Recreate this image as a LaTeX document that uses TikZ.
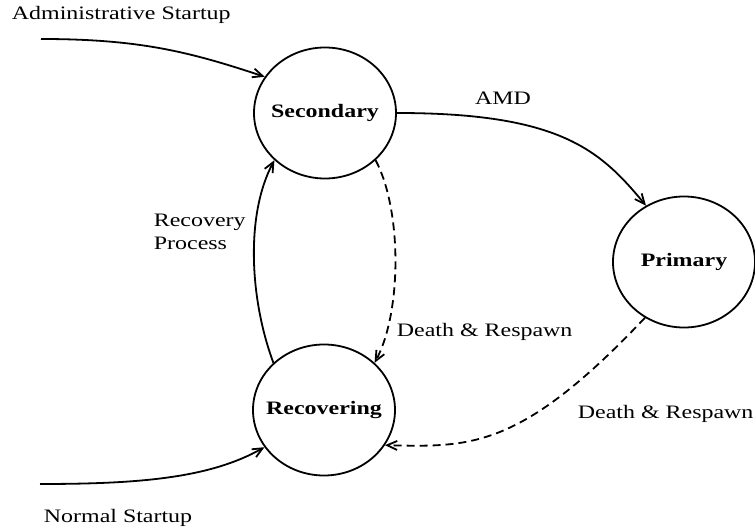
\documentclass[tikz,border=0pt]{standalone}
\usepackage{fontspec}
\setmainfont{Liberation Serif}[FakeStretch=1.26]
\usetikzlibrary{shapes.geometric,arrows.meta}

\begin{document}
\begin{tikzpicture}[x=0.5pt,y=-0.5pt,line width=0.9pt,
		>={Straight Barb[length=5pt,width=4.5pt]},
		every node/.style={font=\fontsize{9.5}{11.5}\selectfont},
		state/.style={draw,ellipse,minimum width=71pt,minimum height=65.5pt,
			inner xsep=-30pt,inner ysep=0pt,
			font=\fontsize{9.5}{11.5}\selectfont\bfseries},
		respawn/.style={dash pattern=on 4pt off 2.5pt},
		lbl/.style={inner sep=0pt}]
	
	% Frame
	\useasboundingbox (0,0) rectangle (755,529);
	
	% States
	\node[state] (sec) at (325,113) {Secondary};
	\node[state] (pri) at (684,262) {Primary};
	\node[state] (rec) at (324,410) {Recovering};
	
	% Free ends of the startup arrows
	\coordinate (adminIn)  at (41,39);
	\coordinate (normalIn) at (40,484);
	
	% Transitions
	\draw[->] (adminIn) .. controls (140,39) and (190,52) .. (sec.149);
	\draw[->] (normalIn) .. controls (140,484) and (210,478) .. (rec.212);
	\draw[->] (sec.0) .. controls (560,113) and (600,150) .. (pri.124);
	\draw[->] (rec.137) .. controls (250,300) and (245,215) .. (sec.223);
	\draw[->,respawn] (sec.317) .. controls (402,210) and (402,312) .. (rec.43);
	\draw[->,respawn] (pri.235) .. controls (520,450) and (470,447) .. (rec.330);
	
	% Labels
	\node[lbl,anchor=base west] (adminlbl) at (11,20) {Administrative Startup};
	\node[lbl,anchor=base west] (normallbl) at (43,522) {Normal Startup};
	\node[lbl,anchor=base] (amdlbl) at (503,105) {AMD};
	\node[lbl,anchor=north west,align=left] (recproclbl) at (153,213) {Recovery\\Process};
	\node[lbl,anchor=base west] (deathonelbl) at (396,336) {Death \& Respawn};
	\node[lbl,anchor=base west] (deathtwolbl) at (577,418) {Death \& Respawn};
	
\end{tikzpicture}
\end{document}
